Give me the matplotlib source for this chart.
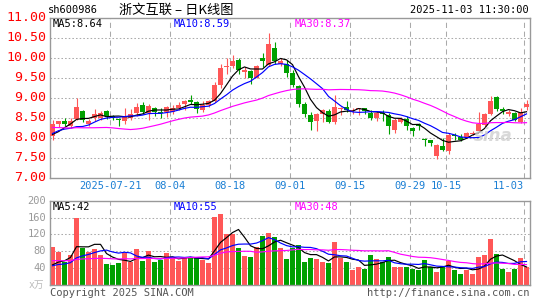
import numpy as np
import pandas as pd
import matplotlib
matplotlib.use('Agg')
import matplotlib.pyplot as plt
import matplotlib.transforms as mtrans

W, H = 545, 300

# trading days, National Day holiday taken out
days = pd.bdate_range('2025-07-07', '2025-11-03')
days = days[(days < '2025-10-01') | (days > '2025-10-08')]

opens = [8.03, 8.34, 8.42, 8.28, 8.47, 8.67, 8.35, 8.48, 8.50, 8.66,
         8.54, 8.46, 8.42, 8.50, 8.62, 8.81, 8.61, 8.75, 8.63, 8.63,
         8.65, 8.75, 8.84, 8.92, 8.90, 8.69, 8.81, 8.92, 9.31, 9.77,
         9.80, 9.95, 9.65, 9.67, 9.50, 9.98, 9.82, 10.23, 9.84, 9.85,
         9.62, 9.28, 8.85, 8.56, 8.42, 8.59, 8.67, 8.40, 8.72, 8.77,
         8.67, 8.71, 8.73, 8.62, 8.50, 8.61, 8.57, 8.20, 8.39, 8.47,
         8.23, 8.32, 7.97, 7.93, 7.53, 7.78, 7.66, 8.07, 8.02, 8.02,
         8.10, 8.17, 8.31, 8.60, 9.02, 8.72, 8.60, 8.62, 8.40, 8.77]
highs = [8.43, 8.42, 8.48, 8.48, 9.00, 8.70, 8.46, 8.71, 8.66, 8.68,
         8.56, 8.50, 8.75, 8.72, 8.87, 8.90, 8.83, 8.76, 8.75, 8.80,
         8.81, 8.90, 8.94, 9.06, 8.92, 8.91, 8.94, 9.40, 9.85, 9.98,
         10.06, 9.98, 9.76, 9.70, 9.81, 10.12, 10.62, 10.40, 9.98, 9.95,
         9.69, 9.31, 8.90, 8.65, 8.61, 8.71, 8.71, 9.06, 8.77, 8.92,
         8.74, 8.74, 8.74, 8.70, 8.66, 8.68, 8.62, 8.49, 8.51, 8.53,
         8.26, 8.37, 7.99, 7.94, 7.83, 7.99, 8.12, 8.12, 8.09, 8.13,
         8.16, 8.65, 8.62, 9.04, 9.03, 8.76, 8.69, 8.65, 8.73, 8.95]
lows = [7.95, 8.27, 8.29, 8.23, 8.43, 8.38, 8.30, 8.42, 8.44, 8.47,
        8.44, 8.30, 8.34, 8.44, 8.55, 8.58, 8.44, 8.53, 8.50, 8.52,
        8.60, 8.69, 8.69, 8.84, 8.62, 8.65, 8.77, 8.90, 9.25, 9.60,
        9.73, 9.60, 9.50, 9.35, 9.48, 9.77, 9.79, 9.85, 9.79, 9.52,
        9.27, 8.77, 8.52, 8.19, 8.17, 8.40, 8.36, 8.35, 8.56, 8.65,
        8.60, 8.57, 8.58, 8.45, 8.42, 8.42, 8.09, 8.12, 8.37, 8.20,
        8.03, 8.20, 7.78, 7.78, 7.46, 7.66, 7.59, 7.95, 7.91, 7.99,
        8.07, 8.14, 8.27, 8.56, 8.67, 8.60, 8.54, 8.42, 8.37, 8.70]
closes = [8.33, 8.40, 8.35, 8.41, 8.77, 8.44, 8.42, 8.58, 8.62, 8.54,
          8.50, 8.44, 8.50, 8.60, 8.76, 8.64, 8.79, 8.64, 8.61, 8.75,
          8.75, 8.81, 8.92, 8.90, 8.72, 8.81, 8.92, 9.31, 9.73, 9.80,
          9.92, 9.70, 9.67, 9.48, 9.79, 9.92, 10.35, 9.92, 9.90, 9.62,
          9.32, 8.85, 8.60, 8.38, 8.59, 8.69, 8.40, 8.77, 8.74, 8.69,
          8.69, 8.73, 8.66, 8.49, 8.62, 8.59, 8.28, 8.43, 8.47, 8.28,
          8.16, 8.30, 7.95, 7.87, 7.82, 7.70, 8.07, 8.05, 7.95, 8.12,
          8.12, 8.35, 8.58, 8.92, 8.71, 8.67, 8.61, 8.44, 8.65, 8.85]
volumes = [90, 79, 55, 70, 159, 88, 79, 85, 70, 49,
           46, 51, 75, 55, 85, 56, 81, 55, 58, 75,
           63, 56, 64, 67, 65, 59, 51, 161, 168, 122,
           120, 88, 68, 66, 90, 116, 123, 114, 87, 60,
           88, 94, 53, 63, 60, 55, 51, 101, 64, 53,
           34, 41, 37, 70, 62, 53, 65, 41, 41, 41,
           36, 34, 58, 41, 31, 45, 56, 34, 26, 34,
           26, 65, 70, 108, 72, 38, 31, 36, 64, 41]

# sessions before the window, only used to feed the moving averages
hist_close = [8.45, 8.55, 8.60, 8.48, 8.52, 8.40, 8.55, 8.50, 8.45,
              8.80, 8.95, 8.90, 8.95,
              8.40, 8.05, 7.80, 7.65, 7.55, 7.45, 7.50,
              7.70, 7.95, 8.20, 8.37, 8.40,
              8.05, 7.85, 7.95, 8.20]
hist_vol = [70, 65, 60, 75, 55, 62, 68, 58, 60, 72,
            64, 55, 66, 60, 58, 70, 62, 60, 58, 62,
            50, 42, 38, 45, 40,
            45, 40, 30, 30]

tick_dates = ['2025-07-21', '2025-08-04', '2025-08-18', '2025-09-01',
              '2025-09-15', '2025-09-29', '2025-10-15', '2025-11-03']
tick_labels = ['2025-07-21', '08-04', '08-18', '09-01', '09-15', '09-29', '10-15', '11-03']
price_ticks = [11.0, 10.5, 10.0, 9.5, 9.0, 8.5, 8.0, 7.5, 7.0]
vol_ticks = [200, 160, 120, 80, 40]

RED = '#FF5757'
GREEN = '#00A000'
MA_COLORS = {5: 'black', 10: '#0000FF', 30: '#FF00FF'}
MONO = ['DejaVu Sans Mono', 'Noto Sans CJK SC']

c_all = pd.Series(hist_close + closes)
v_all = pd.Series(hist_vol + volumes)
ma_p = {n: c_all.rolling(n).mean().to_numpy()[len(hist_close):] for n in (5, 10, 30)}
ma_v = {n: v_all.rolling(n).mean().to_numpy()[len(hist_vol):] for n in (5, 10, 30)}

fig = plt.figure(figsize=(W / 100, H / 100), dpi=100)
fig.patch.set_facecolor('white')


def box(x0, y0, x1, y1):
    return [x0 / W, 1 - y1 / H, (x1 - x0) / W, (y1 - y0) / H]


ax = fig.add_axes(box(50, 17.5, 530, 177.5))
axv = fig.add_axes(box(50, 201, 530, 284.5))

x = np.arange(len(closes))
o = np.array(opens)
c = np.array(closes)
col = np.where(c >= o, RED, GREEN)
tick_idx = [days.get_loc(pd.Timestamp(d)) for d in tick_dates]
shift = 0.417

for a in (ax, axv):
    a.set_xlim(-shift, len(closes) - shift)
    a.set_xticks([])
    a.set_yticks([])
    for s in a.spines.values():
        s.set_color('#999999')
        s.set_linewidth(1)
    for t in tick_idx:
        a.axvline(t - shift, color='#aaaaaa', lw=0.75, ls=(0, (5, 3.5)), zorder=0)

# price panel
ax.set_ylim(7.0, 11.0)
for p in price_ticks[1:-1]:
    ax.axhline(p, color='#aaaaaa', lw=0.75, ls=(0, (1.5, 2)), zorder=0)
ax.vlines(x, lows, highs, colors=col, lw=0.8, zorder=2)
ax.bar(x, np.maximum(np.abs(c - o), 0.025), bottom=np.minimum(o, c),
       width=0.8, color=col, linewidth=0, zorder=3)
for n in (5, 10, 30):
    ax.plot(x, ma_p[n], color=MA_COLORS[n], lw=0.85, zorder=4)

# volume panel
axv.set_ylim(0, 200)
for v in vol_ticks[1:]:
    axv.axhline(v, color='#aaaaaa', lw=0.75, ls=(0, (1.5, 2)), zorder=0)
axv.bar(x, volumes, width=0.8, color=col, linewidth=0, zorder=2)
for n in (5, 10, 30):
    axv.plot(x, ma_v[n], color=MA_COLORS[n], lw=0.85, zorder=3)

# axis labels
ty = mtrans.blended_transform_factory(fig.transFigure, ax.transData)
for p in price_ticks:
    ax.text(46 / W, p, f'{p:.2f}', transform=ty, ha='right', va='center',
            color='#FF0000', fontsize=9.5, family=MONO, clip_on=False)
tyv = mtrans.blended_transform_factory(fig.transFigure, axv.transData)
for v in vol_ticks:
    axv.text(46 / W, v, str(v), transform=tyv, ha='right', va='center',
             color='#999999', fontsize=7.5, family=MONO, clip_on=False)
fig.text(44 / W, 1 - 285 / H, 'x万', ha='right', va='center', color='#bbbbbb',
         fontsize=7, family=MONO)
tx = mtrans.blended_transform_factory(ax.transData, fig.transFigure)
for k, (t, lab) in enumerate(zip(tick_idx, tick_labels)):
    last = k == len(tick_idx) - 1
    ax.text(t - shift, 1 - 186 / H, lab, transform=tx, ha='right' if last else 'center',
            va='center', color='#1A7FD4', fontsize=7.5, family=MONO, clip_on=False)

# header
fig.text(48 / W, 1 - 10 / H, 'sh600986', ha='left', va='center', fontsize=7.5, family=MONO)
fig.text(119 / W, 1 - 10 / H, '浙文互联 – 日K线图', ha='left', va='center', fontsize=9.5,
         family=['Noto Sans CJK SC', 'DejaVu Sans'])
fig.text(529 / W, 1 - 10 / H, '2025-11-03 11:30:00', ha='right', va='center',
         fontsize=7.5, family=MONO)

# MA legends
leg_x = [53, 174, 295]
for lx, n in zip(leg_x, (5, 10, 30)):
    fig.text(lx / W, 1 - 24 / H, f'MA{n}:{ma_p[n][-1]:.2f}', ha='left', va='center',
             color=MA_COLORS[n], fontsize=7.5, family=MONO)
    fig.text(lx / W, 1 - 207 / H, f'MA{n}:{ma_v[n][-1]:.0f}', ha='left', va='center',
             color=MA_COLORS[n], fontsize=7.5, family=MONO)

# watermark and footer
fig.text(493 / W, 1 - 136 / H, 'sina', ha='center', va='center', fontsize=12,
         style='italic', weight='bold', color='#d0d0d0', alpha=0.8)
fig.text(50 / W, 1 - 293 / H, 'Copyright 2025 SINA.COM', ha='left', va='center',
         color='#555555', fontsize=7.5, family=MONO)
fig.text(529 / W, 1 - 293 / H, 'http://finance.sina.com.cn', ha='right', va='center',
         color='#555555', fontsize=7.5, family=MONO)

fig.savefig('out.png', dpi=100)
